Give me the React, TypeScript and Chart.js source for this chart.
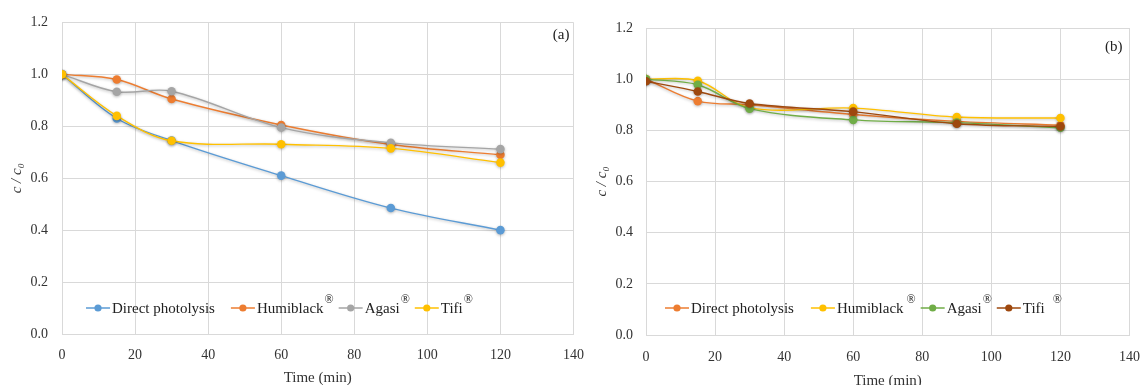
import React, { useEffect, useRef } from 'react';
import { Chart, registerables } from 'chart.js';

Chart.register(...registerables);

const FONT = '"Liberation Serif", "Times New Roman", serif';

// ---------- data ----------
const timesMin = [0, 15, 30, 60, 90, 120];
const seriesNames = ['Direct photolysis', 'Humiblack', 'Agasi', 'Tifi'];
const seriesHasReg = [false, true, true, true];

// panel (a)
const aDirect = [1.0, 0.83, 0.745, 0.61, 0.485, 0.4];
const aHumiblack = [1.0, 0.98, 0.905, 0.805, 0.73, 0.69];
const aAgasi = [1.0, 0.933, 0.935, 0.795, 0.736, 0.712];
const aTifi = [1.0, 0.84, 0.744, 0.731, 0.715, 0.66];
const aColors = ['#5B9BD5', '#ED7D31', '#A5A5A5', '#FFC000'];

// panel (b)
const bDirect = [1.0, 0.914, 0.9, 0.862, 0.835, 0.82];
const bHumiblack = [1.0, 0.994, 0.888, 0.887, 0.852, 0.848];
const bAgasi = [1.0, 0.978, 0.885, 0.841, 0.83, 0.81];
const bTifi = [0.992, 0.952, 0.905, 0.873, 0.826, 0.815];
const bColors = ['#ED7D31', '#FFC000', '#70AD47', '#9E480E'];

const xMax = 140;
const xStep = 20;
const yMax = 1.2;
const yStep = 0.2;

type PanelCfg = {
  label: string;
  series: number[][];
  colors: string[];
  width: number;
  height: number;
  padTop: number;
  padRight: number;
  yAxisWidth: number;
  xAxisHeight: number;
  yTickPad: number;
  xTickPad: number;
  xTitlePadBottom: number;
  panelDx: number;
  panelDy: number;
  legendX: number;
  legendY: number;
  plainGap: number;
  regExtra: number[];
};

const overlayPlugin = {
  id: 'overlay',
  beforeDatasetsDraw(chart: any) {
    const ctx = chart.ctx;
    ctx.save();
    ctx.shadowColor = 'rgba(0,0,0,0.28)';
    ctx.shadowBlur = 3;
    ctx.shadowOffsetX = 0;
    ctx.shadowOffsetY = 1;
  },
  afterDatasetsDraw(chart: any) {
    chart.ctx.restore();
  },
  afterDraw(chart: any, _args: any, opts: any) {
    const ctx = chart.ctx;
    const area = chart.chartArea;
    ctx.save();
    // panel label
    ctx.font = `15px ${FONT}`;
    ctx.fillStyle = '#222';
    ctx.textAlign = 'right';
    ctx.textBaseline = 'middle';
    ctx.fillText(opts.label, area.right - opts.panelDx, area.top + opts.panelDy);

    // legend
    let x = opts.legendX;
    const y = opts.legendY;
    chart.data.datasets.forEach((ds: any, i: number) => {
      ctx.strokeStyle = ds.borderColor;
      ctx.lineWidth = 1.5;
      ctx.beginPath();
      ctx.moveTo(x, y);
      ctx.lineTo(x + 24, y);
      ctx.stroke();
      ctx.fillStyle = ds.borderColor;
      ctx.beginPath();
      ctx.arc(x + 12, y, 3.6, 0, Math.PI * 2);
      ctx.fill();
      x += 26;
      ctx.fillStyle = '#222';
      ctx.textAlign = 'left';
      ctx.font = `15px ${FONT}`;
      ctx.fillText(ds.label, x, y + 1);
      x += ctx.measureText(ds.label).width;
      if (seriesHasReg[i]) {
        x += 1 + (opts.regExtra[i] || 0);
        ctx.font = `12px ${FONT}`;
        ctx.fillText('®', x, y - 8);
        x += ctx.measureText('®').width + 5;
      } else {
        x += opts.plainGap;
      }
    });
    ctx.restore();
  },
};

function Panel({ cfg, left }: { cfg: PanelCfg; left: number }) {
  const ref = useRef<HTMLCanvasElement | null>(null);
  useEffect(() => {
    if (!ref.current) return;
    const datasets = seriesNames.map((name, i) => ({
      label: name,
      data: timesMin.map((t, j) => ({ x: t, y: cfg.series[i][j] })),
      borderColor: cfg.colors[i],
      backgroundColor: cfg.colors[i],
      pointBackgroundColor: cfg.colors[i],
      pointBorderColor: cfg.colors[i],
      pointRadius: 4.3,
      pointBorderWidth: 0,
      borderWidth: 1.4,
      tension: 0.35,
      order: seriesNames.length - 1 - i,
    }));
    const chart = new Chart(ref.current, {
      type: 'line',
      data: { datasets },
      options: {
        animation: false,
        responsive: false,
        devicePixelRatio: 1,
        layout: { padding: { top: cfg.padTop, right: cfg.padRight, bottom: 0, left: 0 } },
        plugins: {
          legend: { display: false },
          tooltip: { enabled: false },
          overlay: {
            label: cfg.label,
            panelDx: cfg.panelDx,
            panelDy: cfg.panelDy,
            legendX: cfg.legendX,
            legendY: cfg.legendY,
            plainGap: cfg.plainGap,
            regExtra: cfg.regExtra,
          },
        } as any,
        scales: {
          x: {
            type: 'linear',
            min: 0,
            max: xMax,
            ticks: { stepSize: xStep, color: '#333', font: { family: FONT, size: 14 }, padding: cfg.xTickPad },
            grid: { color: '#D9D9D9', drawTicks: false, lineWidth: 1 },
            border: { color: '#D9D9D9' },
            title: {
              display: true,
              text: 'Time (min)',
              color: '#333',
              font: { family: FONT, size: 15 },
              padding: { top: 0, bottom: cfg.xTitlePadBottom },
            },
            afterFit: (s: any) => {
              s.height = cfg.xAxisHeight;
            },
          },
          y: {
            type: 'linear',
            min: 0,
            max: yMax,
            ticks: {
              stepSize: yStep,
              color: '#333',
              font: { family: FONT, size: 14 },
              padding: cfg.yTickPad,
              callback: (v: any) => Number(v).toFixed(1),
            },
            grid: { color: '#D9D9D9', drawTicks: false, lineWidth: 1 },
            border: { color: '#D9D9D9' },
            title: {
              display: true,
              text: 'c / c₀',
              color: '#333',
              font: { family: FONT, size: 15, style: 'italic' },
              padding: { top: 8, bottom: 0 },
            },
            afterFit: (s: any) => {
              s.width = cfg.yAxisWidth;
            },
          },
        },
      },
      plugins: [overlayPlugin],
    } as any);
    return () => chart.destroy();
  }, [cfg]);
  return (
    <canvas
      ref={ref}
      width={cfg.width}
      height={cfg.height}
      style={{ position: 'absolute', left, top: 0, width: cfg.width, height: cfg.height }}
    />
  );
}

const panelA: PanelCfg = {
  label: '(a)',
  series: [aDirect, aHumiblack, aAgasi, aTifi],
  colors: aColors,
  width: 597,
  height: 385,
  padTop: 22,
  padRight: 0,
  yAxisWidth: 62,
  xAxisHeight: 51,
  yTickPad: 14,
  xTickPad: 13,
  xTitlePadBottom: -2,
  panelDx: 4,
  panelDy: 13,
  legendX: 86,
  legendY: 308,
  plainGap: 16,
  regExtra: [0, 0, 0, 0],
};

const panelB: PanelCfg = {
  label: '(b)',
  series: [bDirect, bHumiblack, bAgasi, bTifi],
  colors: bColors,
  width: 569,
  height: 385,
  padTop: 28,
  padRight: 0,
  yAxisWidth: 61,
  xAxisHeight: 50,
  yTickPad: 13,
  xTickPad: 14,
  xTitlePadBottom: -5,
  panelDx: 7,
  panelDy: 19,
  legendX: 80,
  legendY: 308,
  plainGap: 17,
  regExtra: [0, 2, 0, 7],
};

export default function App() {
  return (
    <div
      style={{
        position: 'absolute',
        left: 0,
        top: 0,
        width: 1141,
        height: 385,
        overflow: 'hidden',
        background: '#fff',
      }}
    >
      <Panel cfg={panelA} left={0} />
      <Panel cfg={panelB} left={585} />
    </div>
  );
}
